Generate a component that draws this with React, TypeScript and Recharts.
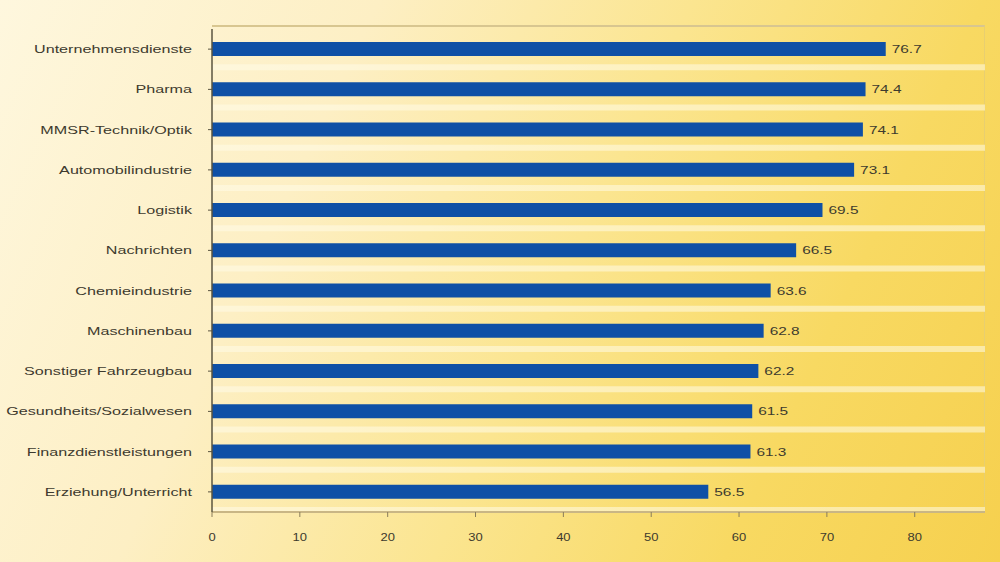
import React from 'react';
import { BarChart, Bar, XAxis, YAxis, CartesianGrid, LabelList } from 'recharts';

// Sectors and their values (top to bottom)
const SECTORS = [
  'Unternehmensdienste',
  'Pharma',
  'MMSR-Technik/Optik',
  'Automobilindustrie',
  'Logistik',
  'Nachrichten',
  'Chemieindustrie',
  'Maschinenbau',
  'Sonstiger Fahrzeugbau',
  'Gesundheits/Sozialwesen',
  'Finanzdienstleistungen',
  'Erziehung/Unterricht',
];
const VALUES = [76.7, 74.4, 74.1, 73.1, 69.5, 66.5, 63.6, 62.8, 62.2, 61.5, 61.3, 56.5];
const X_TICKS = [0, 10, 20, 30, 40, 50, 60, 70, 80];

const data = SECTORS.map((name, i) => ({ name, value: VALUES[i] }));

const BAR_COLOR = '#0f50a6';
const TEXT_COLOR = '#3d3a2e';

const CategoryTick = (props: any) => {
  const { x, y, payload } = props;
  return (
    <g transform={`translate(${x - 14},${y})`}>
      <text
        transform="scale(1.47,1)"
        textAnchor="end"
        dy={4}
        fontSize={11}
        fill={TEXT_COLOR}
        fontFamily="Arial, 'Liberation Sans', sans-serif"
      >
        {payload.value}
      </text>
    </g>
  );
};

const ValueTick = (props: any) => {
  const { x, y, payload } = props;
  return (
    <g transform={`translate(${x},${y})`}>
      <text
        transform="scale(1.3,1)"
        textAnchor="middle"
        dy={22}
        fontSize={10}
        fill={TEXT_COLOR}
        fontFamily="Arial, 'Liberation Sans', sans-serif"
      >
        {payload.value}
      </text>
    </g>
  );
};

const ValueLabel = (props: any) => {
  const { x, y, width, height, value } = props;
  return (
    <g transform={`translate(${x + width + 6},${y + height / 2})`}>
      <text
        transform="scale(1.4,1)"
        dy={4}
        fontSize={11}
        fill={TEXT_COLOR}
        fontFamily="Arial, 'Liberation Sans', sans-serif"
      >
        {value.toFixed(1)}
      </text>
    </g>
  );
};

// pale separators between the rows
const rowLines = ({ offset }: any) => {
  const band = offset.height / SECTORS.length;
  return SECTORS.map((_, i) => offset.top + band * (i + 1) - 2);
};

export default function App() {
  return (
    <div
      style={{
        position: 'absolute',
        left: 0,
        top: 0,
        width: 1000,
        height: 562,
        overflow: 'hidden',
        background:
          'linear-gradient(115deg, #fef7de 0%, #fdefc4 30%, #fbe590 55%, #f8d962 78%, #f6d04e 100%)',
      }}
    >
      <div
        style={{
          position: 'absolute',
          left: 212,
          top: 25,
          width: 773,
          height: 487,
          borderTop: '2px solid #d8c690',
          borderRight: '1px solid #e8cf70',
          boxSizing: 'border-box',
        }}
      />
      <BarChart
        width={1000}
        height={562}
        data={data}
        layout="vertical"
        margin={{ top: 29, right: 15, bottom: 20, left: 0 }}
        barSize={14}
      >
        <CartesianGrid
          vertical={false}
          horizontalCoordinatesGenerator={rowLines}
          stroke="#fffbe8"
          strokeWidth={6}
          strokeOpacity={0.55}
        />
        <XAxis
          type="number"
          domain={[0, 88]}
          ticks={X_TICKS}
          tick={<ValueTick />}
          tickSize={5}
          axisLine={{ stroke: '#c9b685', strokeWidth: 2 }}
          tickLine={{ stroke: '#8a7d5a' }}
          height={30}
          allowDataOverflow
        />
        <YAxis
          type="category"
          dataKey="name"
          width={212}
          tick={<CategoryTick />}
          tickSize={4}
          axisLine={{ stroke: '#5a5440', strokeWidth: 1.5 }}
          tickLine={{ stroke: '#5a5440' }}
        />
        <Bar dataKey="value" fill={BAR_COLOR} isAnimationActive={false}>
          <LabelList dataKey="value" content={<ValueLabel />} />
        </Bar>
      </BarChart>
    </div>
  );
}
